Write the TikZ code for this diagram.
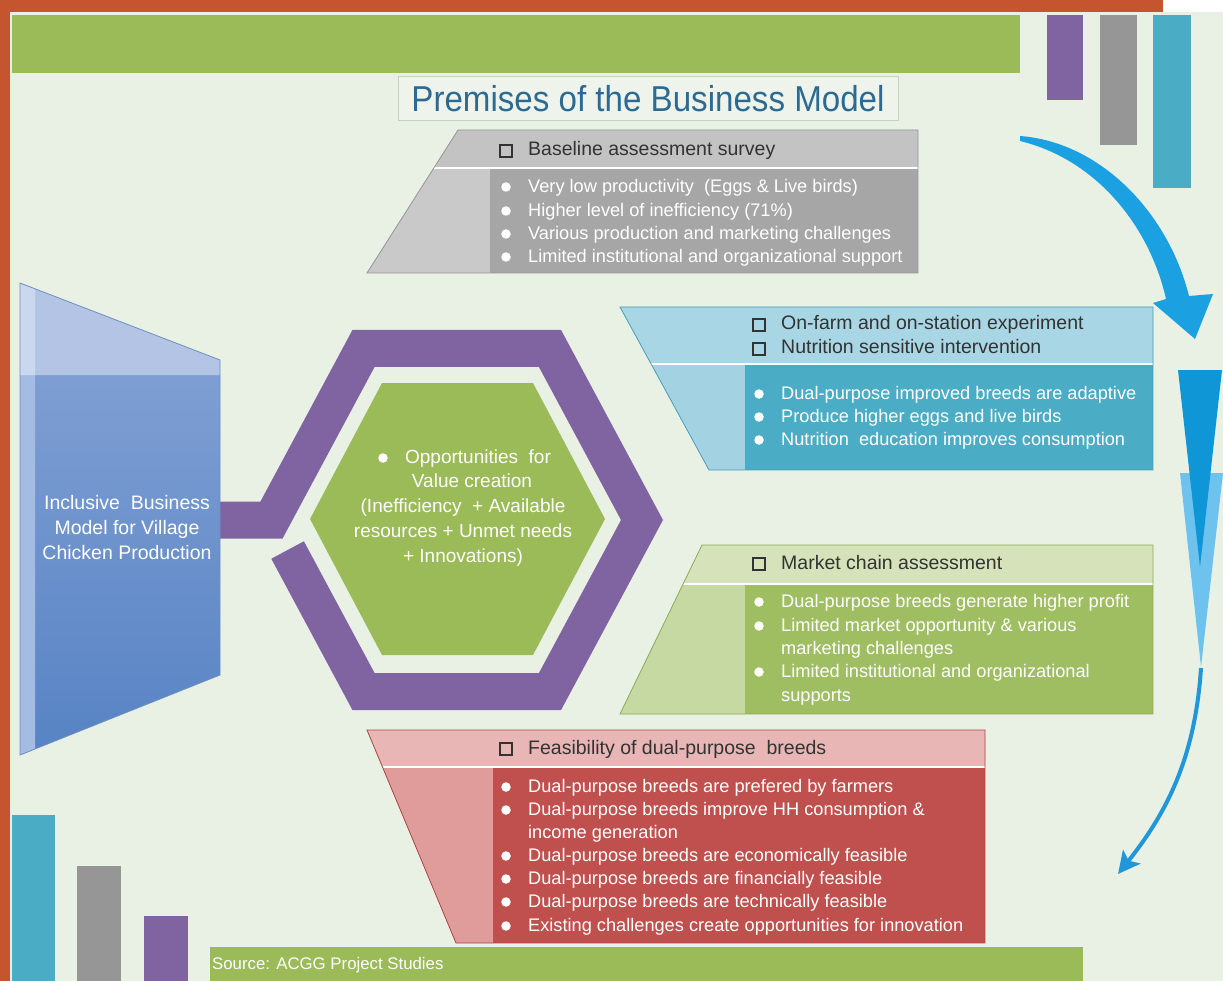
\documentclass[tikz,border=0pt]{standalone}
\usepackage{fontspec}
\setmainfont{Liberation Sans}
\usepackage{graphicx}
\usetikzlibrary{arrows.meta}
\definecolor{bg}{HTML}{E9F1E5}
\definecolor{orng}{HTML}{C4552E}
\definecolor{cgreen}{HTML}{9BBB59}
\definecolor{cpurple}{HTML}{8064A2}
\definecolor{cgray}{HTML}{969696}
\definecolor{cteal}{HTML}{4BACC6}
\definecolor{gh}{HTML}{C3C3C3}
\definecolor{gl}{HTML}{C9C9C9}
\definecolor{gr}{HTML}{A6A6A6}
\definecolor{gedge}{HTML}{959595}
\definecolor{bh}{HTML}{A8D6E4}
\definecolor{bl}{HTML}{A3D3E2}
\definecolor{br}{HTML}{4BACC6}
\definecolor{bedge}{HTML}{4A9DB6}
\definecolor{nh}{HTML}{D5E2BA}
\definecolor{nl}{HTML}{C6D9A2}
\definecolor{nr}{HTML}{9FBE62}
\definecolor{nedge}{HTML}{8CAA57}
\definecolor{rh}{HTML}{E8B6B5}
\definecolor{rl}{HTML}{DF9C9A}
\definecolor{rr}{HTML}{C0504D}
\definecolor{redge}{HTML}{A94542}
\definecolor{lh}{HTML}{B3C4E4}
\definecolor{ltop}{HTML}{7E9ED3}
\definecolor{lbot}{HTML}{5783C4}
\definecolor{lstrip}{HTML}{A4BBE2}
\definecolor{lstriph}{HTML}{CAD7EE}
\definecolor{ledge}{HTML}{6F8EC2}
\definecolor{hdark}{HTML}{333333}
\definecolor{titlec}{HTML}{2D6A92}
\definecolor{titlefill}{HTML}{EEF4EC}
\definecolor{titleedge}{HTML}{C5D5BD}
\definecolor{arrblue}{HTML}{1BA1E2}
\definecolor{darkblue}{HTML}{0E96D7}
\definecolor{lightblue}{HTML}{6EC3EE}
\definecolor{thinblue}{HTML}{2196D9}
\newcommand\bitem[5]{\node[bdot] (#1b) at (#2,#4) {}; \node[bodytxt] (#1) at (#3,#4) {#5};}
\newcommand\citem[4]{\node[bodytxt] (#1) at (#2,#3) {#4};}
\newcommand\hitem[5]{\node[sqbox] (#1s) at (#2,#4) {}; \node[headtxt] (#1) at (#3,#4) {#5};}
\begin{document}
\begin{tikzpicture}[x=1pt,y=-1pt,
  bodytxt/.style={anchor=west, inner sep=0pt, text height=14pt, text depth=3pt, font=\fontsize{18.2}{22}\selectfont, text=white},
  headtxt/.style={anchor=west, inner sep=0pt, text height=14pt, text depth=4pt, font=\fontsize{19.5}{23}\selectfont, text=hdark},
  bdot/.style={circle, fill=white, inner sep=0pt, minimum size=9.5pt},
  sqbox/.style={rectangle, draw=hdark, line width=2.3pt, inner sep=0pt, minimum size=12pt},
  ctxt/.style={inner sep=0pt, text height=14pt, text depth=4pt, font=\fontsize{19}{23}\selectfont, text=white},
  ltxt/.style={inner sep=0pt, text height=14pt, text depth=4pt, font=\fontsize{19.5}{23}\selectfont, text=white}
]
\useasboundingbox (0,0) rectangle (1223,981);
% background and frame
\fill[bg] (0,0) rectangle (1223,981);
\fill[orng] (0,0) rectangle (1163,12);
\fill[orng] (0,0) rectangle (10,981);
\fill[white] (1163,0) rectangle (1223,12);
% top bars
\fill[cgreen] (12,15) rectangle (1020,73);
\fill[cpurple] (1047,15) rectangle (1083,100);
\fill[cgray] (1100,15) rectangle (1137,145);
\fill[cteal] (1153,15) rectangle (1191,188);
% bottom bars
\fill[cteal] (12,815) rectangle (55,981);
\fill[cgray] (77,866) rectangle (121,981);
\fill[cpurple] (144,916) rectangle (188,981);
\fill[cgreen] (210,947) rectangle (1083,981);
\node[anchor=west, text=white, inner sep=0pt, text height=12pt, text depth=3pt, font=\fontsize{16.8}{20}\selectfont] (src) at (212,965) {Source: ACGG Project Studies};
% title
\node[draw=titleedge, fill=titlefill, line width=1pt, minimum width=500pt, minimum height=44pt, inner sep=0pt, text=titlec, font=\fontsize{36}{40}\selectfont] (title) at (648,99) {\scalebox{0.92}[1]{Premises of the Business Model}};

% gray box
\fill[gl] (433.8,168) -- (490,168) -- (490,273) -- (367,273) -- cycle;
\fill[gr] (490,168) rectangle (918,273);
\fill[gh] (458,130) -- (918,130) -- (918,168) -- (433.8,168) -- cycle;
\draw[white, line width=1.5pt] (433.8,168) -- (918,168);
\draw[gedge, line width=0.8pt] (458,130) -- (918,130) -- (918,273) -- (367,273) -- cycle;
\hitem{g0}{506}{528}{151}{Baseline assessment survey}
\bitem{g1}{506}{528}{187}{Very low productivity ~(Eggs \& Live birds)}
\bitem{g2}{506}{528}{211}{Higher level of inefficiency (71\%)}
\bitem{g3}{506}{528}{234}{Various production and marketing challenges}
\bitem{g4}{506}{528}{257}{Limited institutional and organizational support}

% blue box
\fill[bh] (620,307) -- (1153,307) -- (1153,364) -- (651.1,364) -- cycle;
\fill[bl] (651.1,364) -- (745,364) -- (745,470) -- (709,470) -- cycle;
\fill[br] (745,364) rectangle (1153,470);
\draw[white, line width=1.5pt] (651.1,364) -- (1153,364);
\draw[bedge, line width=0.8pt] (620,307) -- (1153,307) -- (1153,470) -- (709,470) -- cycle;
\hitem{b0}{759}{781}{325}{On-farm and on-station experiment}
\hitem{b1}{759}{781}{349}{Nutrition sensitive intervention}
\bitem{b2}{759}{781}{394}{Dual-purpose improved breeds are adaptive}
\bitem{b3}{759}{781}{417}{Produce higher eggs and live birds}
\bitem{b4}{759}{781}{440}{Nutrition ~education improves consumption}

% green box
\fill[nh] (702,545) -- (1153,545) -- (1153,584) -- (683.1,584) -- cycle;
\fill[nl] (683.1,584) -- (745,584) -- (745,714) -- (620,714) -- cycle;
\fill[nr] (745,584) rectangle (1153,714);
\draw[white, line width=1.5pt] (683.1,584) -- (1153,584);
\draw[nedge, line width=0.8pt] (702,545) -- (1153,545) -- (1153,714) -- (620,714) -- cycle;
\hitem{n0}{759}{781}{564}{Market chain assessment}
\bitem{n1}{759}{781}{602}{Dual-purpose breeds generate higher profit}
\bitem{n2}{759}{781}{626}{Limited market opportunity \& various}
\citem{n3}{781}{649}{marketing challenges}
\bitem{n4}{759}{781}{672}{Limited institutional and organizational}
\citem{n5}{781}{696}{supports}

% red box
\fill[rh] (367,730) -- (985,730) -- (985,767) -- (382.5,767) -- cycle;
\fill[rl] (382.5,767) -- (493,767) -- (493,943) -- (456,943) -- cycle;
\fill[rr] (493,767) rectangle (985,943);
\draw[white, line width=1.5pt] (382.5,767) -- (985,767);
\draw[redge, line width=0.8pt] (367,730) -- (985,730) -- (985,943) -- (456,943) -- cycle;
\hitem{r0}{506}{528}{749}{Feasibility of dual-purpose ~breeds}
\bitem{r1}{506}{528}{787}{Dual-purpose breeds are prefered by farmers}
\bitem{r2}{506}{528}{810}{Dual-purpose breeds improve HH consumption \&}
\citem{r3}{528}{833}{income generation}
\bitem{r4}{506}{528}{856}{Dual-purpose breeds are economically feasible}
\bitem{r5}{506}{528}{879}{Dual-purpose breeds are financially feasible}
\bitem{r6}{506}{528}{902}{Dual-purpose breeds are technically feasible}
\bitem{r7}{506}{528}{926}{Existing challenges create opportunities for innovation}

% purple ring with connector
\draw[cpurple, line width=37pt, line join=miter, line cap=butt]
  (215,520) -- (271.5,520) -- (363.5,348.5) -- (550,348.5) -- (642,520)
  -- (550,691.5) -- (363.5,691.5) -- (287.6,550);
% green hexagon
\fill[cgreen] (310,519) -- (382,383) -- (533,383) -- (605,519) -- (533,655) -- (382,655) -- cycle;
\node[bdot] (hb) at (383,458) {};
\node[ctxt] (h1) at (478,458) {Opportunities ~for};
\node[ctxt] (h2) at (472,482) {Value creation};
\node[ctxt] (h3) at (463,507) {(Inefficiency ~+ Available};
\node[ctxt] (h4) at (463,532) {resources + Unmet needs};
\node[ctxt] (h5) at (463,557) {+ Innovations)};

% left shape
\shade[top color=ltop, bottom color=lbot] (20,375) -- (220,375) -- (220,675) -- (20,755) -- cycle;
\fill[lh] (20,283) -- (220,360) -- (220,375) -- (20,375) -- cycle;
\fill[lstrip] (20,375) -- (35,375) -- (35,749) -- (20,755) -- cycle;
\fill[lstriph] (20,283) -- (35,288.8) -- (35,375) -- (20,375) -- cycle;
\draw[ledge, line width=0.8pt] (20,283) -- (220,360) -- (220,675) -- (20,755) -- cycle;
\node[ltxt] (l1) at (127,504) {Inclusive ~Business};
\node[ltxt] (l2) at (127,529) {Model for Village};
\node[ltxt] (l3) at (127,554) {Chicken Production};

% right arrows
\fill[arrblue] (1020,136) .. controls (1100,142) and (1168,212) .. (1189,296)
  -- (1213,294) -- (1195,339) -- (1153,303) -- (1166,299)
  .. controls (1150,228) and (1098,160) .. (1020,141) -- cycle;
\fill[lightblue] (1180,473) -- (1223,473) -- (1201,667) -- cycle;
\fill[darkblue] (1178,370) -- (1222,370) -- (1200,567) -- cycle;
\coordinate (ts) at (1201,668);
\coordinate (te) at (1118,874);
\draw[thinblue, line width=4pt, -{Stealth[length=22pt, width=22pt, inset=5pt]}]
  (ts) .. controls (1195,760) and (1165,815) .. (te);
\end{tikzpicture}
\end{document}
